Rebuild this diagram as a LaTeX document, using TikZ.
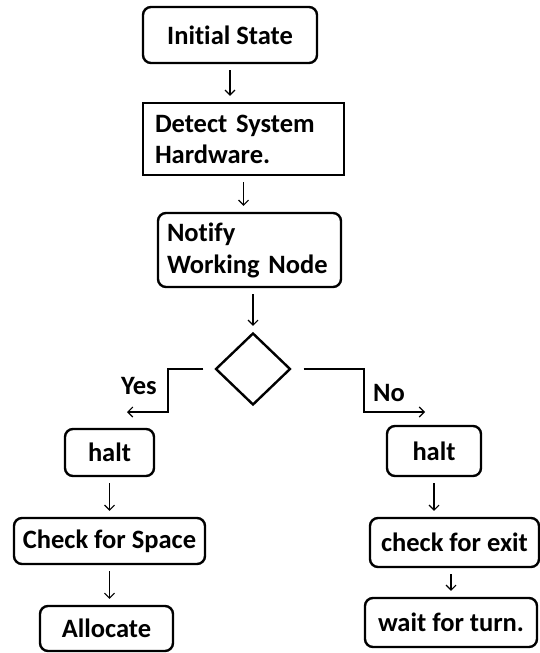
\documentclass[tikz,border=0pt]{standalone}
\usepackage{fontspec}
\setmainfont{Carlito}[Ligatures=NoCommon]
\usetikzlibrary{shapes.geometric,arrows.meta}
\tikzset{
  box/.style={draw, line width=2.4pt, rounded corners=8pt, inner sep=0pt, align=center, font=\bfseries\fontsize{26.5}{31}\selectfont},
  sqbox/.style={box, rounded corners=0pt},
  arr/.style={line width=1.1pt, -{Straight Barb[length=5pt,width=10pt]}, shorten <=6pt, shorten >=6pt},
  elbow/.style={line width=1.1pt, -{Straight Barb[length=5pt,width=10pt]}},
  lbl/.style={font=\bfseries\fontsize{26.5}{31}\selectfont}
}
\begin{document}
\begin{tikzpicture}[x=1pt,y=-1pt]
\useasboundingbox[fill=white] (0,0) rectangle (540,653);
\node[box, minimum width=174pt, minimum height=56pt] (init) at (230,35) {Initial State};
\node[sqbox, align=left, text width=177pt, inner xsep=12pt, minimum height=72pt] (detect) at (243.5,139) {Detect System\\Hardware.};
\node[box, align=left, text width=165pt, inner xsep=9pt, minimum height=74pt] (notify) at (249.5,250) {Notify\\[1pt]Working Node};
\node[draw, diamond, line width=2.4pt, minimum width=75pt, minimum height=72pt, inner sep=0pt] (dec) at (253,369) {};
\node[box, minimum width=89pt, minimum height=47pt] (haltl) at (109.5,452.5) {halt};
\node[box, minimum width=191pt, minimum height=46pt] (space) at (109.5,541) {Check for Space};
\node[box, minimum width=133pt, minimum height=45pt] (alloc) at (106.5,628.5) {Allocate};
\node[box, minimum width=94pt, minimum height=50pt] (haltr) at (434,451) {halt};
\node[box, minimum width=169pt, minimum height=49pt] (exit) at (454.5,542.5) {check for exit};
\node[box, minimum width=172pt, minimum height=49pt] (wait) at (451,622.5) {wait for turn.};
\node[lbl] (yes) at (139,386) {Yes};
\node[lbl] (no) at (389,393) {No};
\coordinate (yesend) at (127,412);
\coordinate (noend) at (425,412);
\draw[arr] (init.south) -- (init.south |- detect.north);
\draw[arr] (detect.south) -- (detect.south |- notify.north);
\draw[arr] (dec.north |- notify.south) -- (dec.north);
\draw[elbow] ([xshift=-11pt]dec.west) -| (168,412) -- (yesend);
\draw[elbow] ([xshift=12pt]dec.east) -| (364,412) -- (noend);
\draw[arr] (haltl) -- (space);
\draw[arr] (space.south) -- (space.south |- alloc.north);
\draw[arr] (haltr.south) -- (haltr.south |- exit.north);
\draw[arr] (wait.north |- exit.south) -- (wait.north);
\end{tikzpicture}
\end{document}
